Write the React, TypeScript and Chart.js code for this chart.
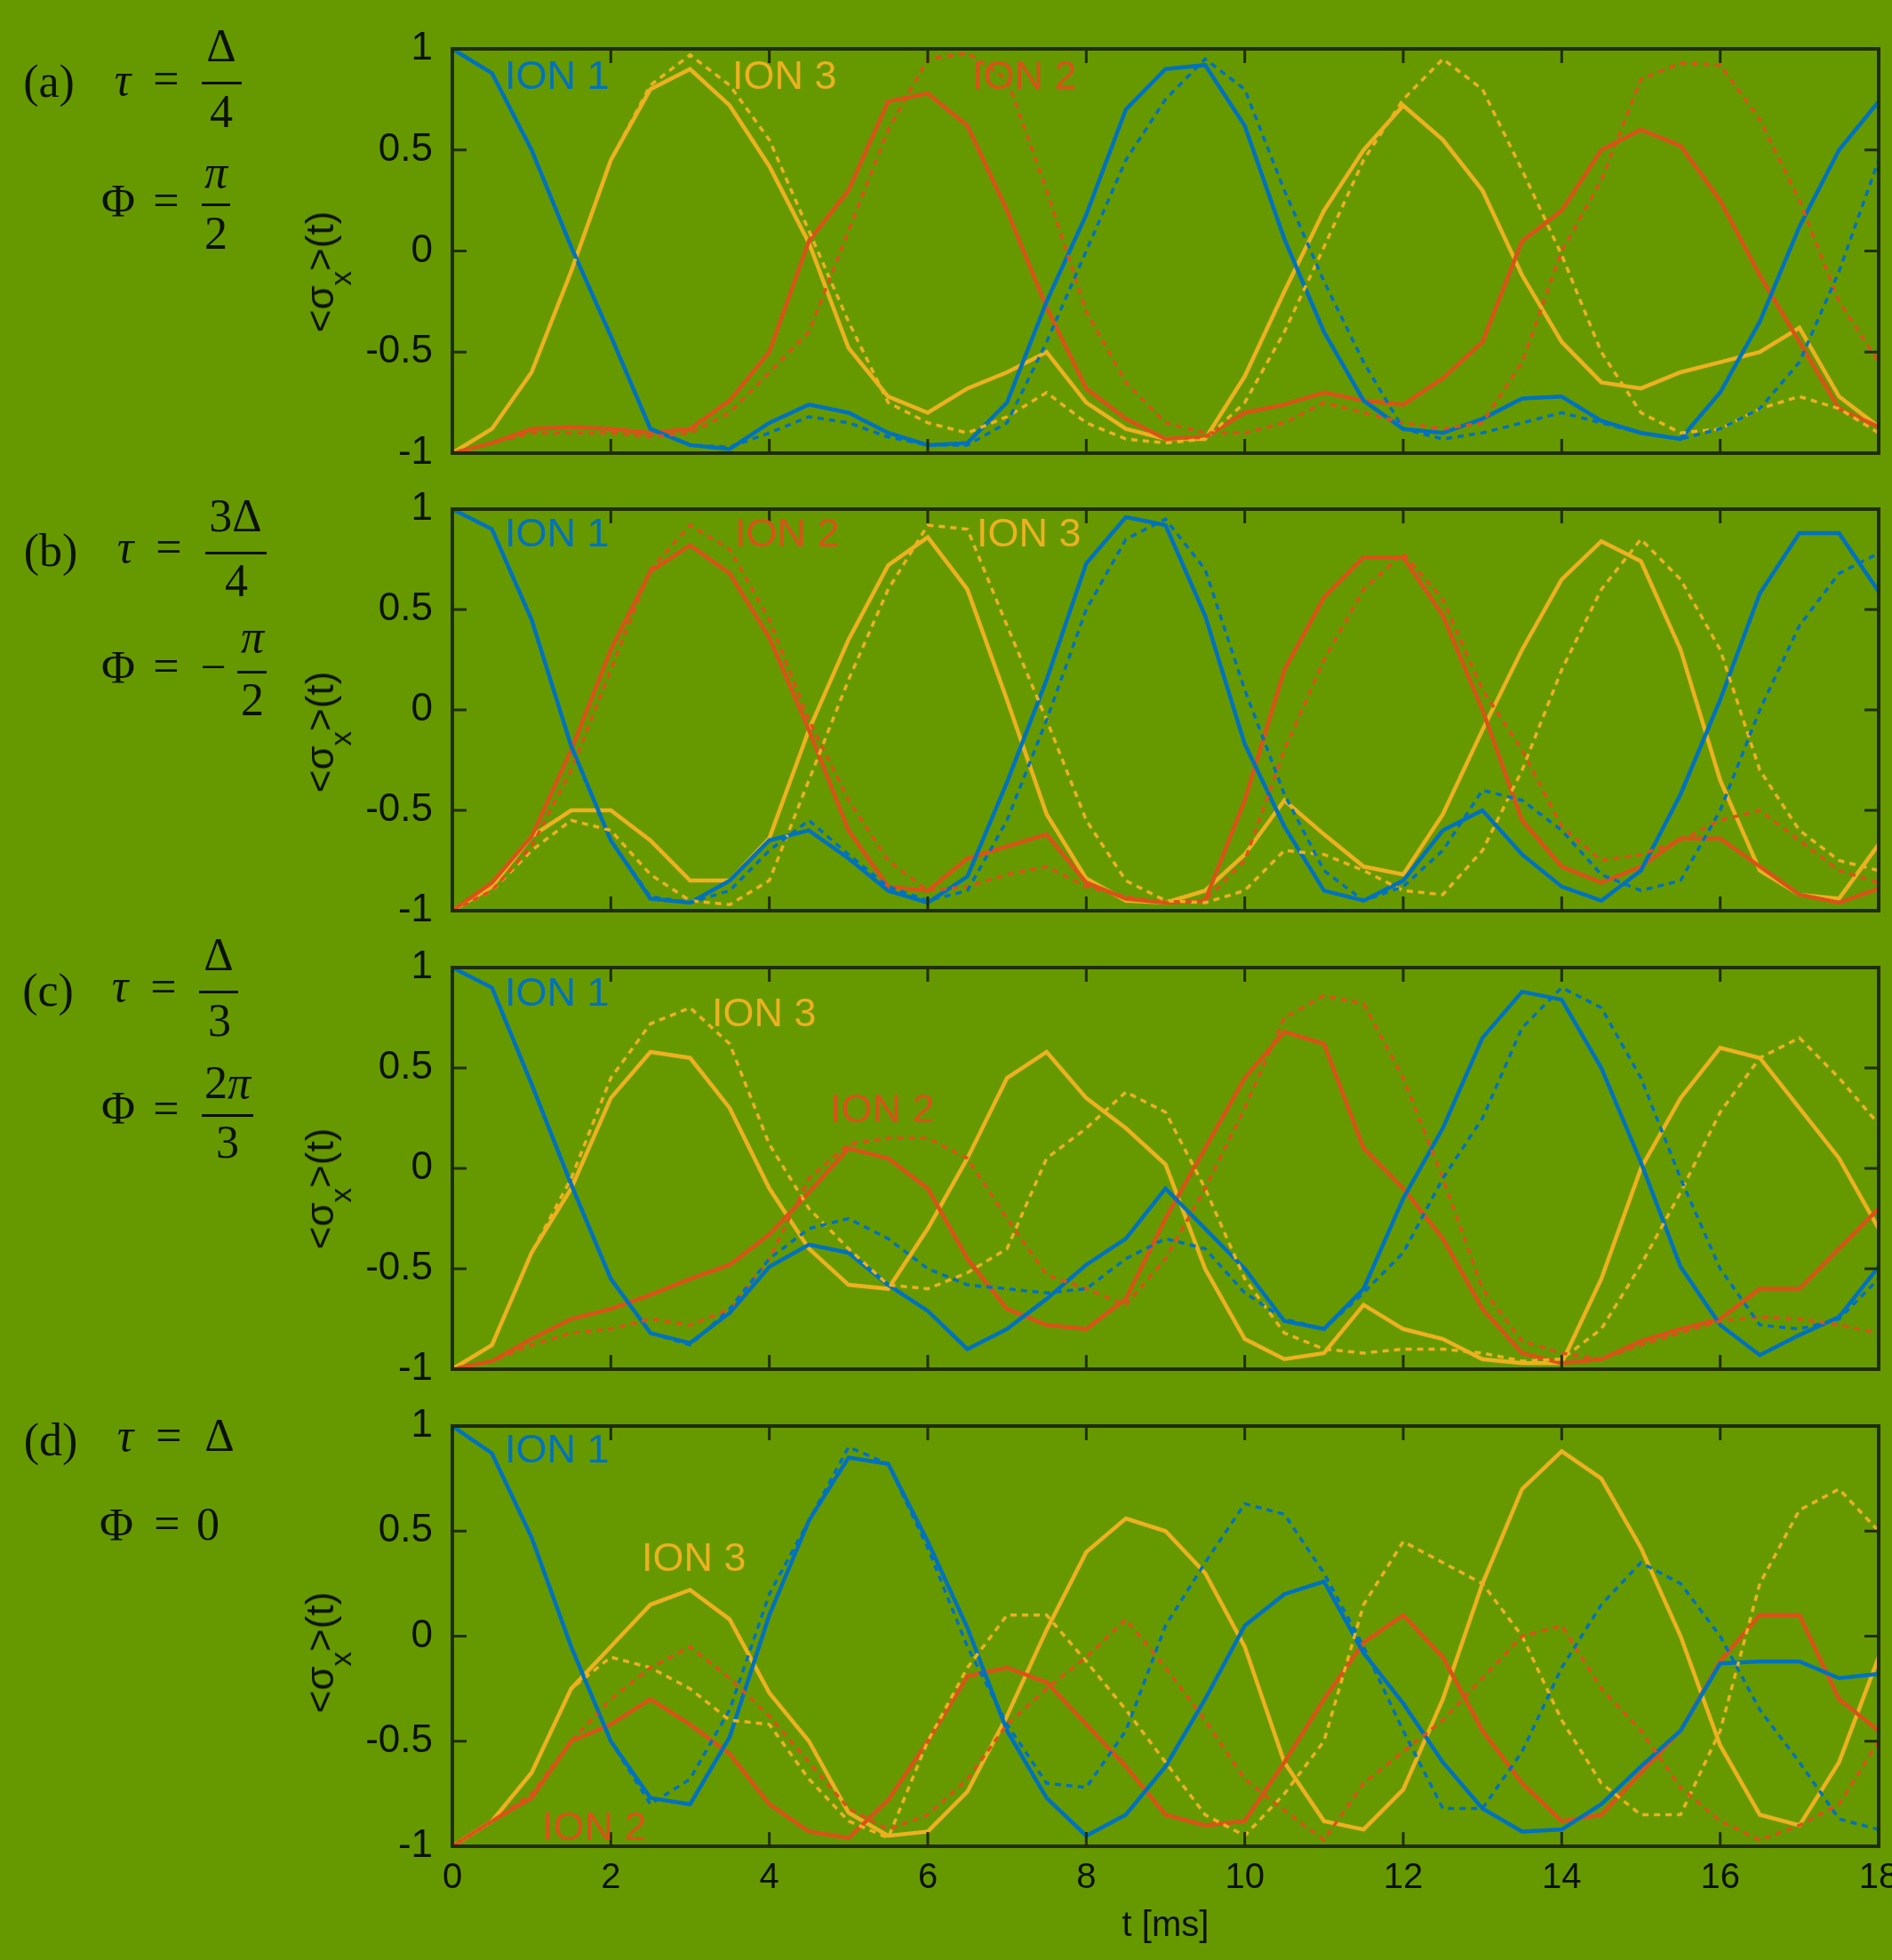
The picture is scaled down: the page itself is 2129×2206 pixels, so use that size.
import React, { useEffect, useRef } from "react";
import { Chart, registerables } from "chart.js";

Chart.register(...registerables);

// ---------------- data ----------------
const T = [0, 0.5, 1, 1.5, 2, 2.5, 3, 3.5, 4, 4.5, 5, 5.5, 6, 6.5, 7, 7.5, 8, 8.5, 9, 9.5, 10, 10.5, 11, 11.5, 12, 12.5, 13, 13.5, 14, 14.5, 15, 15.5, 16, 16.5, 17, 17.5, 18];
const X_TICKS = [0, 2, 4, 6, 8, 10, 12, 14, 16, 18];
const X_TICK_LABELS = ["0", "2", "4", "6", "8", "10", "12", "14", "16", "18"];
const Y_TICKS = [-1, -0.5, 0, 0.5, 1];
const Y_TICK_LABELS = ["-1", "-0.5", "0", "0.5", "1"];
const SERIES_NAMES = ["ION 1", "ION 2", "ION 3"];
const X_TITLE = "t [ms]";

// panel (a)
const A_ION1 = [1.0, 0.88, 0.5, 0.02, -0.42, -0.88, -0.96, -0.98, -0.85, -0.76, -0.8, -0.9, -0.96, -0.95, -0.75, -0.25, 0.18, 0.7, 0.9, 0.92, 0.62, 0.06, -0.4, -0.74, -0.88, -0.9, -0.83, -0.73, -0.72, -0.84, -0.9, -0.93, -0.7, -0.35, 0.12, 0.5, 0.74];
const A_ION1_DOT = [1.0, 0.88, 0.5, 0.02, -0.42, -0.88, -0.96, -0.97, -0.9, -0.82, -0.85, -0.92, -0.96, -0.96, -0.85, -0.45, 0.0, 0.45, 0.75, 0.95, 0.8, 0.3, -0.15, -0.55, -0.88, -0.93, -0.9, -0.85, -0.8, -0.85, -0.9, -0.93, -0.88, -0.78, -0.55, -0.1, 0.45];
const A_ION2 = [-1.0, -0.95, -0.88, -0.87, -0.88, -0.9, -0.88, -0.74, -0.5, 0.05, 0.3, 0.74, 0.78, 0.62, 0.2, -0.28, -0.68, -0.83, -0.93, -0.92, -0.8, -0.76, -0.7, -0.74, -0.76, -0.63, -0.45, 0.05, 0.2, 0.5, 0.6, 0.52, 0.25, -0.12, -0.45, -0.78, -0.87];
const A_ION2_DOT = [-1.0, -0.95, -0.9, -0.9, -0.9, -0.92, -0.9, -0.8, -0.6, -0.4, 0.1, 0.6, 0.95, 0.98, 0.85, 0.3, -0.3, -0.65, -0.85, -0.9, -0.9, -0.85, -0.75, -0.8, -0.85, -0.88, -0.85, -0.55, 0.0, 0.35, 0.85, 0.93, 0.92, 0.65, 0.25, -0.25, -0.55];
const A_ION3 = [-1.0, -0.88, -0.6, -0.1, 0.45, 0.8, 0.9, 0.72, 0.42, 0.04, -0.48, -0.72, -0.8, -0.68, -0.6, -0.5, -0.75, -0.88, -0.93, -0.93, -0.62, -0.2, 0.2, 0.5, 0.72, 0.55, 0.3, -0.12, -0.45, -0.65, -0.68, -0.6, -0.55, -0.5, -0.38, -0.72, -0.87];
const A_ION3_DOT = [-1.0, -0.88, -0.6, -0.1, 0.45, 0.82, 0.97, 0.82, 0.55, 0.1, -0.35, -0.75, -0.85, -0.9, -0.82, -0.7, -0.85, -0.93, -0.95, -0.93, -0.75, -0.4, 0.02, 0.45, 0.75, 0.95, 0.8, 0.4, -0.02, -0.5, -0.8, -0.9, -0.88, -0.78, -0.72, -0.78, -0.9];

// panel (b)
const B_ION1 = [1.0, 0.9, 0.45, -0.18, -0.65, -0.94, -0.96, -0.85, -0.65, -0.6, -0.74, -0.9, -0.96, -0.83, -0.36, 0.15, 0.73, 0.96, 0.92, 0.47, -0.17, -0.58, -0.9, -0.95, -0.85, -0.6, -0.5, -0.72, -0.88, -0.95, -0.8, -0.42, 0.05, 0.58, 0.88, 0.88, 0.59];
const B_ION1_DOT = [1.0, 0.9, 0.45, -0.18, -0.65, -0.93, -0.96, -0.9, -0.7, -0.55, -0.72, -0.88, -0.95, -0.9, -0.55, -0.05, 0.5, 0.85, 0.95, 0.7, 0.1, -0.42, -0.8, -0.95, -0.88, -0.7, -0.4, -0.45, -0.6, -0.82, -0.9, -0.85, -0.5, 0.0, 0.42, 0.68, 0.78];
const B_ION2 = [-1.0, -0.86, -0.63, -0.2, 0.3, 0.69, 0.82, 0.68, 0.36, -0.1, -0.6, -0.88, -0.9, -0.74, -0.68, -0.62, -0.86, -0.94, -0.96, -0.95, -0.45, 0.2, 0.56, 0.76, 0.76, 0.47, 0.0, -0.55, -0.78, -0.86, -0.78, -0.64, -0.64, -0.78, -0.92, -0.96, -0.89];
const B_ION2_DOT = [-1.0, -0.9, -0.68, -0.3, 0.2, 0.7, 0.92, 0.8, 0.45, -0.05, -0.45, -0.75, -0.9, -0.88, -0.82, -0.78, -0.88, -0.93, -0.96, -0.95, -0.75, -0.2, 0.25, 0.6, 0.78, 0.55, 0.1, -0.2, -0.58, -0.75, -0.72, -0.65, -0.55, -0.5, -0.65, -0.8, -0.86];
const B_ION3 = [-1.0, -0.88, -0.63, -0.5, -0.5, -0.65, -0.85, -0.85, -0.64, -0.1, 0.35, 0.72, 0.86, 0.6, 0.05, -0.52, -0.84, -0.95, -0.96, -0.9, -0.72, -0.45, -0.62, -0.78, -0.82, -0.52, -0.1, 0.3, 0.65, 0.84, 0.74, 0.3, -0.35, -0.8, -0.92, -0.94, -0.67];
const B_ION3_DOT = [-1.0, -0.9, -0.7, -0.55, -0.6, -0.82, -0.95, -0.97, -0.85, -0.35, 0.15, 0.6, 0.92, 0.9, 0.42, -0.05, -0.55, -0.85, -0.95, -0.96, -0.9, -0.7, -0.72, -0.8, -0.9, -0.92, -0.7, -0.3, 0.2, 0.6, 0.85, 0.65, 0.3, -0.3, -0.6, -0.75, -0.8];

// panel (c)
const C_ION1 = [1.0, 0.9, 0.42, -0.08, -0.55, -0.82, -0.87, -0.72, -0.49, -0.38, -0.42, -0.58, -0.71, -0.9, -0.8, -0.65, -0.48, -0.35, -0.1, -0.3, -0.5, -0.76, -0.8, -0.6, -0.15, 0.2, 0.65, 0.88, 0.84, 0.5, 0.03, -0.49, -0.78, -0.93, -0.83, -0.74, -0.49];
const C_ION1_DOT = [1.0, 0.9, 0.42, -0.08, -0.55, -0.82, -0.88, -0.7, -0.45, -0.3, -0.25, -0.35, -0.5, -0.58, -0.6, -0.62, -0.6, -0.45, -0.35, -0.4, -0.62, -0.75, -0.8, -0.62, -0.42, -0.05, 0.25, 0.7, 0.9, 0.8, 0.45, -0.05, -0.5, -0.78, -0.8, -0.75, -0.55];
const C_ION2 = [-1.0, -0.96, -0.85, -0.75, -0.7, -0.63, -0.55, -0.48, -0.33, -0.12, 0.1, 0.05, -0.1, -0.45, -0.7, -0.78, -0.8, -0.65, -0.25, 0.1, 0.45, 0.68, 0.62, 0.1, -0.1, -0.35, -0.7, -0.92, -0.97, -0.95, -0.86, -0.8, -0.75, -0.6, -0.6, -0.4, -0.2];
const C_ION2_DOT = [-1.0, -0.96, -0.88, -0.82, -0.8, -0.75, -0.78, -0.7, -0.45, -0.05, 0.12, 0.15, 0.15, 0.05, -0.25, -0.53, -0.6, -0.68, -0.45, -0.1, 0.3, 0.75, 0.86, 0.82, 0.45, -0.05, -0.6, -0.86, -0.92, -0.95, -0.88, -0.82, -0.76, -0.74, -0.75, -0.78, -0.82];
const C_ION3 = [-1.0, -0.88, -0.42, -0.1, 0.35, 0.58, 0.55, 0.3, -0.1, -0.4, -0.58, -0.6, -0.3, 0.05, 0.45, 0.58, 0.35, 0.2, 0.02, -0.5, -0.85, -0.95, -0.92, -0.68, -0.8, -0.85, -0.95, -0.97, -0.97, -0.55, 0.0, 0.35, 0.6, 0.55, 0.3, 0.05, -0.3];
const C_ION3_DOT = [-1.0, -0.88, -0.42, -0.05, 0.45, 0.72, 0.8, 0.62, 0.12, -0.2, -0.4, -0.58, -0.6, -0.52, -0.4, 0.05, 0.2, 0.38, 0.28, -0.1, -0.55, -0.82, -0.9, -0.92, -0.9, -0.9, -0.92, -0.96, -0.95, -0.8, -0.48, -0.12, 0.28, 0.55, 0.65, 0.45, 0.22];

// panel (d)
const D_ION1 = [1.0, 0.87, 0.47, -0.05, -0.5, -0.77, -0.8, -0.48, 0.1, 0.55, 0.85, 0.82, 0.45, 0.04, -0.45, -0.77, -0.95, -0.85, -0.62, -0.3, 0.05, 0.2, 0.26, -0.08, -0.32, -0.6, -0.82, -0.93, -0.92, -0.8, -0.62, -0.45, -0.13, -0.12, -0.12, -0.2, -0.18];
const D_ION1_DOT = [1.0, 0.87, 0.47, -0.05, -0.5, -0.8, -0.68, -0.35, 0.2, 0.55, 0.9, 0.82, 0.42, -0.05, -0.42, -0.7, -0.72, -0.45, 0.05, 0.35, 0.63, 0.58, 0.3, -0.05, -0.45, -0.82, -0.82, -0.55, -0.15, 0.15, 0.35, 0.25, 0.0, -0.35, -0.6, -0.87, -0.92];
const D_ION2 = [-1.0, -0.88, -0.77, -0.5, -0.42, -0.3, -0.42, -0.56, -0.8, -0.93, -0.96, -0.78, -0.5, -0.19, -0.15, -0.22, -0.42, -0.62, -0.85, -0.9, -0.88, -0.6, -0.3, -0.03, 0.1, -0.1, -0.45, -0.7, -0.88, -0.85, -0.65, -0.45, -0.12, 0.1, 0.1, -0.3, -0.45];
const D_ION2_DOT = [-1.0, -0.88, -0.75, -0.5, -0.3, -0.15, -0.05, -0.2, -0.38, -0.6, -0.82, -0.92, -0.85, -0.68, -0.42, -0.25, -0.1, 0.08, -0.15, -0.4, -0.68, -0.83, -0.97, -0.7, -0.55, -0.4, -0.2, 0.0, 0.05, -0.25, -0.45, -0.72, -0.88, -0.97, -0.9, -0.8, -0.5];
const D_ION3 = [-1.0, -0.88, -0.65, -0.25, -0.05, 0.15, 0.22, 0.08, -0.27, -0.5, -0.84, -0.95, -0.93, -0.74, -0.38, 0.03, 0.4, 0.56, 0.5, 0.3, -0.05, -0.6, -0.88, -0.92, -0.73, -0.3, 0.25, 0.7, 0.88, 0.75, 0.42, 0.0, -0.52, -0.85, -0.9, -0.6, -0.1];
const D_ION3_DOT = [-1.0, -0.88, -0.65, -0.25, -0.1, -0.15, -0.25, -0.4, -0.42, -0.68, -0.88, -0.96, -0.5, -0.15, 0.1, 0.1, -0.12, -0.35, -0.6, -0.85, -0.95, -0.75, -0.5, 0.15, 0.45, 0.35, 0.25, 0.0, -0.4, -0.7, -0.85, -0.85, -0.45, 0.25, 0.6, 0.7, 0.5];

// ---------------- styles / layout ----------------
const BG = "#669900";
const INK = "#0b1200";
const AXIS = "#1f2e00";
const ION_COLORS = ["#0072BD", "#D95319", "#EDB120"];
const SANS = "'Liberation Sans', Arial, Helvetica, sans-serif";
const SERIF = "'Liberation Serif', 'Times New Roman', serif";
const CW = 2200;
const PLOT_LEFT = 509;
const PLOT_RIGHT = 2114;
const Y_AXIS_W = 108;
const PAD = 60;
const TICK = 16;

const PANELS = [
  { key: "a", top: 55, bottom: 510, showX: false,
    solid: [A_ION1, A_ION2, A_ION3], dotted: [A_ION1_DOT, A_ION2_DOT, A_ION3_DOT],
    labels: [{ s: 0, x: 568, y: 84 }, { s: 2, x: 824, y: 84 }, { s: 1, x: 1094, y: 84 }], titleY: 306 },
  { key: "b", top: 573, bottom: 1025, showX: false,
    solid: [B_ION1, B_ION2, B_ION3], dotted: [B_ION1_DOT, B_ION2_DOT, B_ION3_DOT],
    labels: [{ s: 0, x: 568, y: 599 }, { s: 1, x: 827, y: 599 }, { s: 2, x: 1099, y: 599 }], titleY: 824 },
  { key: "c", top: 1089, bottom: 1541, showX: false,
    solid: [C_ION1, C_ION2, C_ION3], dotted: [C_ION1_DOT, C_ION2_DOT, C_ION3_DOT],
    labels: [{ s: 0, x: 568, y: 1116 }, { s: 2, x: 801, y: 1139 }, { s: 1, x: 934, y: 1247 }], titleY: 1338 },
  { key: "d", top: 1605, bottom: 2078, showX: true,
    solid: [D_ION1, D_ION2, D_ION3], dotted: [D_ION1_DOT, D_ION2_DOT, D_ION3_DOT],
    labels: [{ s: 0, x: 568, y: 1630 }, { s: 2, x: 722, y: 1752 }, { s: 1, x: 610, y: 2055 }], titleY: 1860 },
];

const framePlugin = {
  id: "frame",
  afterDraw(chart: any) {
    const { ctx, chartArea: a } = chart;
    const xs = chart.scales.x;
    const ys = chart.scales.y;
    ctx.save();
    ctx.strokeStyle = AXIS;
    ctx.lineWidth = 3;
    ctx.beginPath();
    xs.ticks.forEach((t: any) => {
      const px = xs.getPixelForValue(t.value);
      ctx.moveTo(px, a.top);
      ctx.lineTo(px, a.top + TICK);
      ctx.moveTo(px, a.bottom);
      ctx.lineTo(px, a.bottom - TICK);
    });
    ys.ticks.forEach((t: any) => {
      const py = ys.getPixelForValue(t.value);
      ctx.moveTo(a.left, py);
      ctx.lineTo(a.left + TICK, py);
      ctx.moveTo(a.right, py);
      ctx.lineTo(a.right - TICK, py);
    });
    ctx.stroke();
    ctx.lineWidth = 4;
    ctx.strokeRect(a.left, a.top, a.right - a.left, a.bottom - a.top);
    ctx.restore();
  },
};

function Panel({ p }: { p: any }) {
  const ref = useRef<HTMLCanvasElement>(null);
  const canvasTop = p.top - PAD;
  const height = p.showX ? 2206 - canvasTop : p.bottom - p.top + 2 * PAD;
  useEffect(() => {
    const datasets: any[] = [];
    p.dotted.forEach((arr: number[], i: number) => {
      datasets.push({
        label: SERIES_NAMES[i] + " (dotted)",
        data: T.map((t, k) => ({ x: t, y: arr[k] })),
        borderColor: ION_COLORS[i],
        borderWidth: 3.5,
        borderDash: [7, 6],
        pointRadius: 0,
        tension: 0,
        fill: false,
      });
    });
    p.solid.forEach((arr: number[], i: number) => {
      datasets.push({
        label: SERIES_NAMES[i],
        data: T.map((t, k) => ({ x: t, y: arr[k] })),
        borderColor: ION_COLORS[i],
        borderWidth: 4.5,
        pointRadius: 0,
        tension: 0,
        fill: false,
      });
    });
    const chart = new Chart(ref.current as HTMLCanvasElement, {
      type: "line",
      data: { datasets },
      options: {
        animation: false,
        responsive: false,
        maintainAspectRatio: false,
        devicePixelRatio: 1,
        events: [],
        layout: {
          padding: {
            left: PLOT_LEFT - Y_AXIS_W,
            right: CW - PLOT_RIGHT,
            top: PAD,
            bottom: p.showX ? 0 : PAD,
          },
        },
        plugins: { legend: { display: false }, tooltip: { enabled: false }, title: { display: false } },
        scales: {
          x: {
            type: "linear",
            min: 0,
            max: 18,
            grid: { display: false, drawTicks: false },
            border: { display: false },
            afterBuildTicks: (s: any) => {
              s.ticks = X_TICKS.map((v) => ({ value: v }));
            },
            afterFit: (s: any) => {
              s.height = p.showX ? 128 : 0;
            },
            ticks: {
              display: p.showX,
              autoSkip: false,
              maxRotation: 0,
              padding: 12,
              color: INK,
              font: { family: SANS, size: 40 },
              callback: (_v: any, i: number) => X_TICK_LABELS[i],
            },
            title: {
              display: p.showX,
              text: X_TITLE,
              color: INK,
              font: { family: SANS, size: 40 },
              padding: { top: 0, bottom: 14 },
            },
          },
          y: {
            type: "linear",
            min: -1,
            max: 1,
            grid: { display: false, drawTicks: false },
            border: { display: false },
            afterBuildTicks: (s: any) => {
              s.ticks = Y_TICKS.map((v) => ({ value: v }));
            },
            afterFit: (s: any) => {
              s.width = Y_AXIS_W;
            },
            ticks: {
              autoSkip: false,
              padding: 22,
              color: INK,
              font: { family: SANS, size: 44 },
              callback: (_v: any, i: number) => Y_TICK_LABELS[i],
            },
          },
        },
      } as any,
      plugins: [framePlugin],
    });
    return () => chart.destroy();
  }, []);
  return (
    <canvas
      ref={ref}
      width={CW}
      height={height}
      style={{ position: "absolute", left: 0, top: canvasTop, width: CW, height, display: "block" }}
    />
  );
}

// serif text placed by baseline
function S({ x, b, children, size = 52, italic = false }: any) {
  return (
    <div
      style={{
        position: "absolute",
        left: x,
        top: b - 0.8375 * size,
        transform: "translateX(-50%)",
        fontFamily: SERIF,
        fontSize: size,
        lineHeight: 1,
        fontStyle: italic ? "italic" : "normal",
        whiteSpace: "nowrap",
        color: INK,
      }}
    >
      {children}
    </div>
  );
}

function Bar({ x1, x2, y }: any) {
  return <div style={{ position: "absolute", left: x1, top: y - 1.5, width: x2 - x1, height: 3, background: INK }} />;
}

function YTitle({ y }: { y: number }) {
  return (
    <div
      style={{
        position: "absolute",
        left: 360,
        top: y,
        transform: "translate(-50%,-50%) rotate(-90deg)",
        fontFamily: SANS,
        fontSize: 44,
        lineHeight: 1,
        whiteSpace: "nowrap",
        color: INK,
      }}
    >
      {"<σ"}
      <span style={{ fontSize: "0.75em", position: "relative", top: "0.6em" }}>x</span>
      {">(t)"}
    </div>
  );
}

function IonLabel({ s, x, y }: any) {
  const size = 45;
  return (
    <div
      style={{
        position: "absolute",
        left: x,
        top: y - 0.4885 * size,
        fontFamily: SANS,
        fontSize: size,
        lineHeight: 1,
        whiteSpace: "nowrap",
        color: ION_COLORS[s],
      }}
    >
      {SERIES_NAMES[s]}
    </div>
  );
}

function Annotations() {
  return (
    <>
      {/* (a) */}
      <S x={55} b={110}>(a)</S>
      <S x={138} b={108} italic>τ</S>
      <S x={187} b={107}>=</S>
      <S x={249} b={70}>Δ</S>
      <Bar x1={227} x2={272} y={93} />
      <S x={249} b={144}>4</S>
      <S x={133} b={245}>Φ</S>
      <S x={187} b={244}>=</S>
      <S x={243} b={212} italic>π</S>
      <Bar x1={227} x2={259} y={230} />
      <S x={243} b={281}>2</S>

      {/* (b) */}
      <S x={57} b={638}>(b)</S>
      <S x={141} b={634} italic>τ</S>
      <S x={190} b={634}>=</S>
      <S x={265} b={599}>3Δ</S>
      <Bar x1={231} x2={300} y={622} />
      <S x={266} b={672}>4</S>
      <S x={133} b={770}>Φ</S>
      <S x={187} b={768}>=</S>
      <S x={240} b={769}>−</S>
      <S x={284} b={735} italic>π</S>
      <Bar x1={267} x2={300} y={756} />
      <S x={284} b={806}>2</S>

      {/* (c) */}
      <S x={54} b={1133}>(c)</S>
      <S x={135} b={1128} italic>τ</S>
      <S x={184} b={1129}>=</S>
      <S x={246} b={1093}>Δ</S>
      <Bar x1={224} x2={268} y={1116} />
      <S x={247} b={1167}>3</S>
      <S x={133} b={1266}>Φ</S>
      <S x={187} b={1266}>=</S>
      <S x={256} b={1237}>2<i>π</i></S>
      <Bar x1={227} x2={285} y={1255} />
      <S x={256} b={1304}>3</S>

      {/* (d) */}
      <S x={57} b={1639}>(d)</S>
      <S x={141} b={1634} italic>τ</S>
      <S x={190} b={1634}>=</S>
      <S x={247} b={1634}>Δ</S>
      <S x={131} b={1735}>Φ</S>
      <S x={188} b={1733}>=</S>
      <S x={234} b={1734}>0</S>
    </>
  );
}

export default function App() {
  return (
    <div
      style={{
        position: "fixed",
        left: 0,
        top: 0,
        width: 2129,
        height: 2206,
        background: BG,
        overflow: "hidden",
      }}
    >
      {PANELS.map((p) => (
        <Panel key={p.key} p={p} />
      ))}
      {PANELS.map((p) => (
        <YTitle key={"t" + p.key} y={p.titleY} />
      ))}
      {PANELS.map((p) =>
        p.labels.map((l: any, i: number) => <IonLabel key={p.key + i} s={l.s} x={l.x} y={l.y} />)
      )}
      <Annotations />
    </div>
  );
}
